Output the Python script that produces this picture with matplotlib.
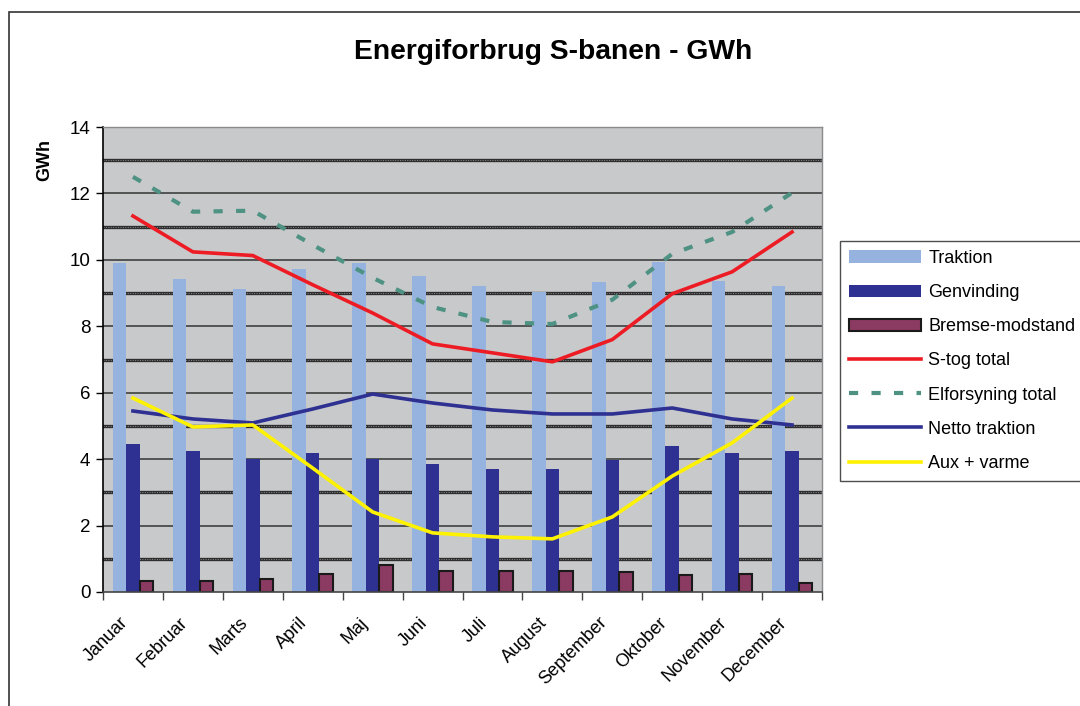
'''Energiforbrug S-banen - monthly energy use chart'''
import matplotlib
matplotlib.use('Agg')
import matplotlib.pyplot as plt
import matplotlib.transforms as mtransforms
from matplotlib.patches import Rectangle
from matplotlib.ticker import MultipleLocator, FixedLocator
import numpy as np

plt.rcParams['font.family'] = ['Liberation Sans', 'DejaVu Sans']

months = ['Januar', 'Februar', 'Marts', 'April', 'Maj', 'Juni', 'Juli',
          'August', 'September', 'Oktober', 'November', 'December']

# bars
traktion = [9.9, 9.43, 9.13, 9.73, 9.9, 9.5, 9.22, 9.03, 9.33, 9.94, 9.37, 9.22]
genvinding = [4.45, 4.25, 4.0, 4.18, 4.0, 3.85, 3.7, 3.7, 3.98, 4.4, 4.18, 4.25]
bremse = [0.33, 0.33, 0.38, 0.55, 0.8, 0.63, 0.63, 0.63, 0.6, 0.5, 0.55, 0.28]

# lines
stog_total = [11.32, 10.24, 10.13, 9.25, 8.4, 7.47, 7.2, 6.93, 7.6, 8.98, 9.64, 10.84]
elforsyning = [12.5, 11.45, 11.48, 10.45, 9.46, 8.58, 8.13, 8.07, 8.8, 10.18, 10.84, 12.02]
netto = [5.45, 5.21, 5.09, 5.51, 5.96, 5.69, 5.48, 5.36, 5.36, 5.54, 5.21, 5.03]
aux = [5.84, 4.97, 5.03, 3.73, 2.41, 1.78, 1.66, 1.6, 2.26, 3.49, 4.49, 5.84]

W, H = 1080, 706
fig = plt.figure(figsize=(W / 100, H / 100), dpi=100)

# outer chart border (cut off at right and bottom like the source)
fig.patches.append(Rectangle((9 / W, -0.05), 1.2, 1 - 12 / H + 0.05,
                             transform=fig.transFigure, fill=False,
                             edgecolor='#333333', lw=1.2))

ax = fig.add_axes([103 / W, 1 - 592 / H, (822 - 103) / W, (592 - 127) / H])
ax.set_facecolor('#C8C9CB')

x = np.arange(len(months))
bw = 0.225
bars = []
bars.append(ax.bar(x - bw, traktion, bw, color='#95B3DE', zorder=2, label='Traktion'))
bars.append(ax.bar(x, genvinding, bw, color='#2E3192', zorder=2, label='Genvinding'))
bars.append(ax.bar(x + bw, bremse, bw, color='#8B3A62', edgecolor='#1a1a1a', lw=1.5,
                   zorder=2, label='Bremse-modstand'))

lines = []
lines += ax.plot(x, stog_total, color='#ED1C24', lw=2.6, zorder=4, label='S-tog total')
lines += ax.plot(x, elforsyning, color='#4E9283', lw=3, ls=(0, (2.2, 3.2)), zorder=4,
                 label='Elforsyning total')
lines += ax.plot(x, netto, color='#2E3192', lw=2.6, zorder=4, label='Netto traktion')
lines += ax.plot(x, aux, color='#FFF200', lw=2.6, zorder=4, label='Aux + varme')

ax.set_xlim(-0.5, len(months) - 0.5)
ax.set_ylim(0, 14)

# gridlines: even values thin, odd values heavier
for v in range(2, 14, 2):
    ax.axhline(v, color='#333333', lw=1.1, zorder=1)
for v in range(1, 14, 2):
    ax.axhline(v, color='#2e2e2e', lw=2.4, zorder=1)
    ax.axhline(v, color='#8a8a8a', lw=0.7, ls=(0, (1, 1.5)), zorder=1)

ax.yaxis.set_major_locator(MultipleLocator(2))
ax.tick_params(axis='y', direction='out', length=5, width=1, labelsize=13.5,
               colors='black', pad=4)

ax.set_xticks(x)
ax.set_xticklabels(months, rotation=45, ha='right', rotation_mode='anchor',
                   fontsize=13)
ax.xaxis.set_minor_locator(FixedLocator(np.arange(-0.5, len(months), 1)))
ax.tick_params(axis='x', which='major', length=0, pad=16)
ax.tick_params(axis='x', which='minor', direction='out', length=6, width=1,
               color='#444444')
shift = mtransforms.ScaledTranslation(-14 / 100, 0, fig.dpi_scale_trans)
for lab in ax.get_xticklabels():
    lab.set_transform(lab.get_transform() + shift)

ax.spines['left'].set_color('black')
ax.spines['left'].set_linewidth(1.2)
ax.spines['bottom'].set_color('#444444')
ax.spines['bottom'].set_linewidth(1.2)
for s in ['top', 'right']:
    ax.spines[s].set_color('#8a8a8a')
    ax.spines[s].set_linewidth(1)

fig.text(553 / W, 1 - 52 / H, 'Energiforbrug S-banen - GWh', fontsize=20.3,
         fontweight='bold', ha='center', va='center')
fig.text(45 / W, 1 - 160 / H, 'GWh', fontsize=13, fontweight='bold',
         rotation=90, ha='center', va='center')

handles = bars + lines
leg = fig.legend(handles, [h.get_label() for h in handles],
                 loc='upper left', bbox_to_anchor=(840 / W, 1 - 241 / H),
                 borderaxespad=0, fontsize=13, frameon=True, fancybox=False,
                 handlelength=4.0, handleheight=0.7, handletextpad=0.4,
                 labelspacing=0.95, borderpad=0.5)
leg.get_frame().set_edgecolor('#222222')
leg.get_frame().set_linewidth(1)

fig.savefig('out.png', dpi=100)
